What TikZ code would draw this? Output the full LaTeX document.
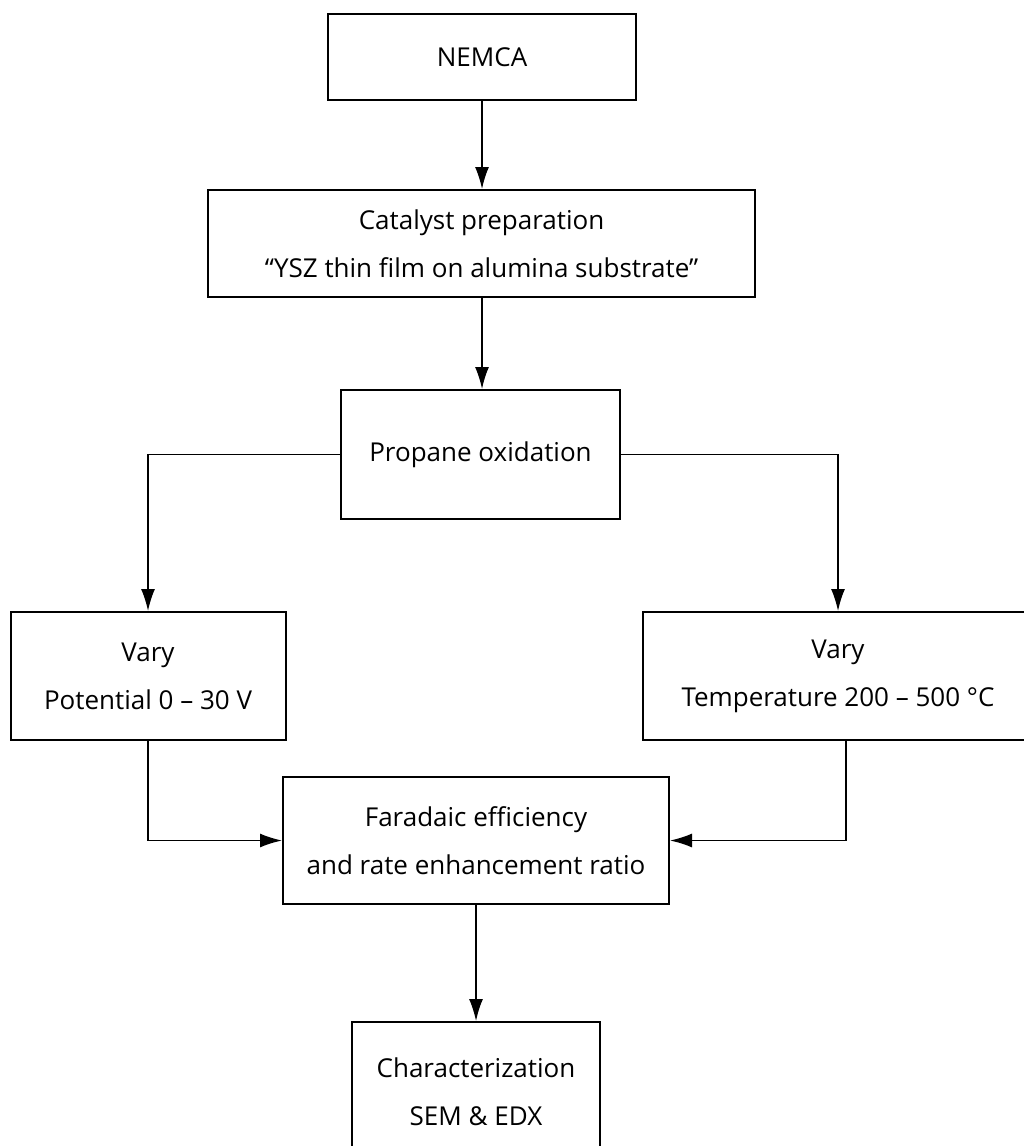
\documentclass[tikz,border=0pt]{standalone}
\usepackage{fontspec}
\setmainfont{Open Sans}
\usetikzlibrary{arrows.meta}
\begin{document}
\begin{tikzpicture}[x=1pt,y=-1pt,>={Latex[length=22pt,width=14pt]},line width=1.5pt,
  box/.style={draw,line width=2pt,align=center,inner sep=0pt,font=\fontsize{26}{48}\selectfont}]
\useasboundingbox (0,0) rectangle (1023,1146);
\node[box,minimum width=308pt,minimum height=86pt] (nemca) at (482,57) {NEMCA};
\node[box,minimum width=547pt,minimum height=107pt] (prep) at (481.5,243.5)
  {Catalyst preparation\\“YSZ thin film on alumina substrate”};
\node[box,minimum width=279pt,minimum height=129pt] (prop) at (480.5,454.5) {Propane oxidation};
\node[box,minimum width=275pt,minimum height=128pt] (pot) at (148,676) {Vary\\Potential 0 – 30 V};
\node[box,minimum width=390pt,minimum height=128pt] (temp) at (838,676) {Vary\\Temperature 200 – 500 °C};
\node[box,minimum width=386pt,minimum height=127pt] (fe) at (476,840.5)
  {Faradaic efficiency\\and rate enhancement ratio};
\node[box,minimum width=248pt,minimum height=140pt] (char) at (476,1092) {Characterization\\SEM \& EDX};
\draw[->] (nemca.south) -- (nemca.south |- prep.north);
\draw[->] (nemca.south |- prep.south) -- (nemca.south |- prop.north);
\draw[->] (prop.west) -| (pot.north);
\draw[->] (prop.east) -| (temp.north);
\draw[->] (pot.south) |- (fe.west);
\draw[->] ([xshift=8pt]temp.south) |- (fe.east);
\draw[->] (fe.south) -- (char.north);
\end{tikzpicture}
\end{document}
